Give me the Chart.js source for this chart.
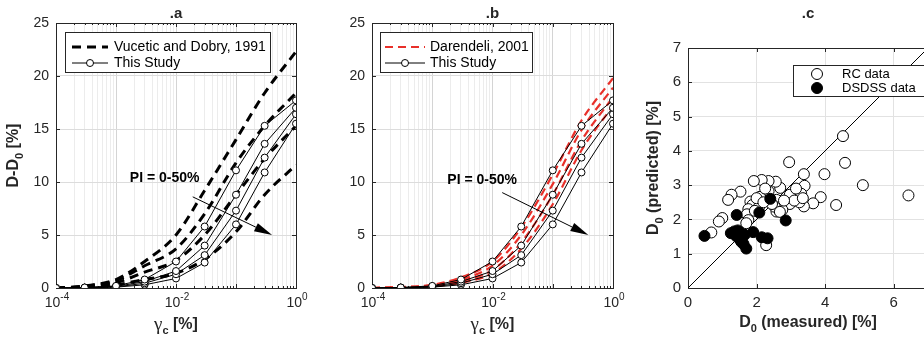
<!DOCTYPE html>
<html>
<head>
<meta charset="utf-8">
<script src="https://cdn.jsdelivr.net/npm/chart.js@4"></script>
<style>
  html, body { margin: 0; padding: 0; background: #fff; overflow: hidden; }
  body { width: 924px; height: 341px; position: relative; }
  canvas { position: absolute; top: 0; }
</style>
</head>
<body>
<canvas id="panel-a" width="310" height="341" style="left:0px"></canvas>
<canvas id="panel-b" width="320" height="341" style="left:310px"></canvas>
<canvas id="panel-c" width="310" height="341" style="left:630px"></canvas>
<script>
// shear strain levels [%] used by all curves in panels a and b
const strainPoints = [1e-4, 3e-4, 1e-3, 3e-3, 1e-2, 3e-2, 1e-1, 3e-1, 1];

// This Study (PI = 0 ... 50 %)
const study1 = [0, 0.05, 0.2, 0.8, 2.5, 5.8, 11.1, 15.3, 17.7];
const study2 = [0, 0.04, 0.15, 0.6, 1.6, 4.0, 8.8, 13.6, 17.0];
const study3 = [0, 0.03, 0.1, 0.45, 1.3, 3.1, 7.3, 12.3, 16.4];
const study4 = [0, 0.02, 0.08, 0.3, 0.9, 2.4, 6.0, 10.9, 15.5];

// Vucetic and Dobry, 1991
const vd1 = [0, 0.2, 0.8, 2.5, 5.0, 9.2, 14.0, 18.4, 22.3];
const vd2 = [0, 0.15, 0.7, 2.1, 3.7, 7.0, 11.8, 15.3, 18.4];
const vd3 = [0, 0.1, 0.5, 1.5, 2.6, 5.0, 8.8, 12.2, 15.3];
const vd4 = [0, 0.05, 0.3, 0.8, 1.4, 2.7, 5.3, 8.8, 11.6];

// Darendeli, 2001
const dar1 = [0, 0.08, 0.3, 1.0, 2.5, 5.7, 10.7, 15.8, 19.8];
const dar2 = [0, 0.06, 0.25, 0.8, 2.1, 5.0, 9.8, 14.9, 18.9];
const dar3 = [0, 0.05, 0.2, 0.65, 1.7, 4.3, 8.8, 13.9, 18.0];
const dar4 = [0, 0.04, 0.15, 0.5, 1.4, 3.7, 7.9, 13.0, 17.2];

// panel c: D0 measured vs predicted [%]
const rcMeasured = [4.52, 4.58, 2.95, 5.10, 6.43, 3.98, 3.38, 3.40, 3.87, 4.32, 3.65, 3.38, 3.30, 3.25, 2.97, 2.97,
  2.75, 2.58, 2.69, 2.56, 2.35, 2.15, 1.92, 2.25, 2.35, 2.10, 2.38, 2.58, 1.53, 1.27, 1.17, 1.82, 1.88, 1.76, 1.72,
  1.76, 1.70, 1.00, 0.90, 0.68, 2.28, 2.08, 2.00, 2.53, 2.68, 3.10, 3.35, 2.45, 2.20, 1.95, 2.80, 3.15, 2.25];
const rcPredicted = [4.43, 3.65, 3.67, 3.00, 2.70, 3.32, 3.32, 2.98, 2.65, 2.42, 2.47, 2.38, 2.75, 2.50, 2.72, 2.45,
  2.28, 2.57, 2.92, 3.10, 3.12, 3.15, 3.12, 2.76, 2.82, 2.66, 2.51, 2.23, 2.81, 2.72, 2.57, 2.52, 2.42, 2.30, 2.15,
  1.98, 1.89, 2.04, 1.94, 1.62, 1.25, 2.38, 2.62, 2.37, 2.22, 2.55, 2.62, 2.45, 2.50, 2.25, 2.55, 2.90, 2.90];
const dsMeasured = [0.48, 1.25, 1.35, 1.45, 1.52, 1.40, 1.48, 1.58, 1.55, 1.62, 1.70, 1.42, 1.90, 2.08, 2.15, 2.32, 2.40, 2.85, 1.65];
const dsPredicted = [1.52, 1.60, 1.65, 1.68, 1.62, 1.52, 1.45, 1.48, 1.35, 1.28, 1.15, 2.13, 1.63, 2.20, 1.48, 1.45, 2.60, 1.97, 1.55];
const identityLine = [0, 7];

const FONT = '"Liberation Sans", Arial, Helvetica, sans-serif';
const AXIS = '#262626';

function toPoints(xs, ys) {
  return xs.map((x, i) => ({ x: x, y: ys[i] }));
}

// gridline positions for the log axis: 1..9 x 10^e
const strainTicks = [];
for (let e = -4; e < 0; e++) {
  for (let m = 1; m < 10; m++) strainTicks.push(m * Math.pow(10, e));
}
strainTicks.push(1);

function isDecade(v) {
  const e = Math.round(Math.log10(v));
  return Math.abs(v / Math.pow(10, e) - 1) < 1e-9;
}
// labelled ticks: every second decade
const labelledStrains = strainTicks.filter(v => isDecade(v) && Math.round(Math.log10(v)) % 2 === 0);

// draws text made of normal / subscript / superscript parts, centred on (x, y)
function drawRich(ctx, parts, x, y, size, rotate, weight) {
  const fontOf = p => (p.italic ? 'italic ' : '') + ((p.normal || weight === 'normal') ? '' : 'bold ') +
    ((p.sub || p.sup) ? Math.round(size * 0.7) : (p.size || size)) + 'px ' + (p.serif ? '"Liberation Serif", serif' : FONT);
  ctx.save();
  ctx.translate(x, y);
  if (rotate) ctx.rotate(-Math.PI / 2);
  let total = 0;
  const widths = parts.map(p => {
    ctx.font = fontOf(p);
    const w = ctx.measureText(p.t).width;
    total += w;
    return w;
  });
  let cx = -total / 2;
  ctx.fillStyle = AXIS;
  ctx.textAlign = 'left';
  ctx.textBaseline = 'middle';
  parts.forEach((p, i) => {
    ctx.font = fontOf(p);
    ctx.fillText(p.t, cx, p.sub ? size * 0.4 : (p.sup ? -size * 0.42 : 0));
    cx += widths[i];
  });
  ctx.restore();
}

const decorPlugin = {
  id: 'decor',
  beforeDatasetsDraw(chart, args, opts) {
    const ctx = chart.ctx;
    const a = chart.chartArea;
    const xs = chart.scales.x, ys = chart.scales.y;
    ctx.save();
    ctx.strokeStyle = AXIS;
    ctx.lineWidth = 1;
    // inward tick marks
    ctx.beginPath();
    ys.ticks.forEach(t => {
      const py = Math.round(ys.getPixelForValue(t.value)) + 0.5;
      ctx.moveTo(a.left, py); ctx.lineTo(a.left + 4, py);
      ctx.moveTo(a.right, py); ctx.lineTo(a.right - 4, py);
    });
    xs.ticks.forEach(t => {
      const major = xs.type !== 'logarithmic' || isDecade(t.value);
      const len = major ? 4 : 2;
      const px = Math.round(xs.getPixelForValue(t.value)) + 0.5;
      ctx.moveTo(px, a.bottom); ctx.lineTo(px, a.bottom - len);
      ctx.moveTo(px, a.top); ctx.lineTo(px, a.top + len);
    });
    ctx.stroke();
    ctx.strokeRect(Math.round(a.left) + 0.5, Math.round(a.top) + 0.5,
      Math.round(a.right - a.left), Math.round(a.bottom - a.top));
    ctx.restore();
  },
  afterDraw(chart, args, opts) {
    const ctx = chart.ctx;
    const a = chart.chartArea;
    const xs = chart.scales.x, ys = chart.scales.y;
    const cx = (a.left + a.right) / 2;

    drawRich(ctx, [{ t: opts.title }], cx, 14, 15);
    if (opts.xLabel) drawRich(ctx, opts.xLabel, cx, opts.xLabelY, 16);
    if (opts.yLabel) drawRich(ctx, opts.yLabel, opts.yLabelX, (a.top + a.bottom) / 2, 16, true);

    // power-of-ten tick labels
    if (xs.type === 'logarithmic') {
      labelledStrains.forEach(v => {
        const e = Math.round(Math.log10(v));
        drawRich(ctx, [{ t: '10' }, { t: String(e), sup: true }], xs.getPixelForValue(v) + 1, a.bottom + 15, 14, false, 'normal');
      });
    }

    ctx.save();
    if (opts.arrow) {
      const x0 = xs.getPixelForValue(opts.arrow.from[0]), y0 = ys.getPixelForValue(opts.arrow.from[1]);
      const x1 = xs.getPixelForValue(opts.arrow.to[0]), y1 = ys.getPixelForValue(opts.arrow.to[1]);
      const ang = Math.atan2(y1 - y0, x1 - x0);
      const head = 18, half = 4.5;
      const bx = x1 - head * Math.cos(ang), by = y1 - head * Math.sin(ang);
      ctx.strokeStyle = '#000';
      ctx.fillStyle = '#000';
      ctx.lineWidth = 1;
      ctx.beginPath();
      ctx.moveTo(x0, y0); ctx.lineTo(bx, by);
      ctx.stroke();
      ctx.beginPath();
      ctx.moveTo(x1, y1);
      ctx.lineTo(bx + half * Math.sin(ang), by - half * Math.cos(ang));
      ctx.lineTo(bx - half * Math.sin(ang), by + half * Math.cos(ang));
      ctx.closePath();
      ctx.fill();
    }
    if (opts.note) {
      ctx.fillStyle = '#000';
      ctx.font = 'bold 14px ' + FONT;
      ctx.textAlign = 'left';
      ctx.textBaseline = 'middle';
      ctx.fillText(opts.note.text, xs.getPixelForValue(opts.note.at[0]), ys.getPixelForValue(opts.note.at[1]));
    }

    if (opts.legend) {
      const lg = opts.legend;
      ctx.fillStyle = '#fff';
      ctx.fillRect(lg.box[0], lg.box[1], lg.box[2], lg.box[3]);
      ctx.strokeStyle = AXIS;
      ctx.lineWidth = 1;
      ctx.strokeRect(lg.box[0] + 0.5, lg.box[1] + 0.5, lg.box[2], lg.box[3]);
      lg.rows.forEach(r => {
        const ds = chart.data.datasets[r.ds];
        if (r.x1 !== undefined) {
          ctx.save();
          ctx.strokeStyle = ds.borderColor;
          ctx.lineWidth = ds.borderWidth;
          ctx.setLineDash(ds.borderDash || []);
          ctx.beginPath();
          ctx.moveTo(r.x0, r.y); ctx.lineTo(r.x1, r.y);
          ctx.stroke();
          ctx.restore();
        }
        if (r.marker !== undefined) {
          ctx.beginPath();
          ctx.arc(r.marker, r.y, ds.pointRadius, 0, Math.PI * 2);
          ctx.fillStyle = ds.pointBackgroundColor || ds.backgroundColor;
          ctx.fill();
          ctx.strokeStyle = ds.pointBorderColor || '#000';
          ctx.lineWidth = 1;
          ctx.stroke();
        }
        ctx.fillStyle = '#000';
        ctx.font = lg.fontSize + 'px ' + FONT;
        ctx.textAlign = 'left';
        ctx.textBaseline = 'middle';
        ctx.fillText(r.text, r.textX, r.y + 0.5);
      });
    }
    ctx.restore();
  }
};

function logAxis() {
  return {
    type: 'logarithmic',
    min: 1e-4,
    max: 1,
    afterBuildTicks(scale) { scale.ticks = strainTicks.map(v => ({ value: v })); },
    afterFit(scale) { scale.height = 53; },
    border: { display: false },
    grid: {
      drawTicks: false,
      color: ctx => (ctx.tick && isDecade(ctx.tick.value)) ? '#d4d4d4' : '#ececec'
    },
    ticks: {
      autoSkip: false,
      maxRotation: 0,
      callback: () => ''
    }
  };
}

function dampingAxis(width) {
  return {
    min: 0,
    max: 25,
    afterFit(scale) { scale.width = width; },
    border: { display: false },
    grid: { drawTicks: false, color: '#dcdcdc' },
    ticks: { stepSize: 5, padding: 7, color: AXIS, font: { size: 14, family: FONT } }
  };
}

function studySet(values) {
  return {
    data: toPoints(strainPoints, values),
    borderColor: '#000',
    borderWidth: 1,
    pointRadius: 3.5,
    pointBackgroundColor: '#fff',
    pointBorderColor: '#000',
    pointBorderWidth: 1,
    tension: 0
  };
}

function dashedSet(values, color, width, dash) {
  return {
    data: toPoints(strainPoints, values),
    borderColor: color,
    borderWidth: width,
    borderDash: dash,
    pointRadius: 0,
    cubicInterpolationMode: 'monotone'
  };
}

const gammaLabel = [{ t: '\u03B3', serif: true, normal: true, size: 19 }, { t: 'c', sub: true }, { t: ' [%]' }];

// ---- panel a ----
new Chart(document.getElementById('panel-a'), {
  type: 'line',
  data: {
    datasets: [
      studySet(study1), studySet(study2), studySet(study3), studySet(study4),
      dashedSet(vd1, '#000', 3, [9, 6]), dashedSet(vd2, '#000', 3, [9, 6]),
      dashedSet(vd3, '#000', 3, [9, 6]), dashedSet(vd4, '#000', 3, [9, 6])
    ]
  },
  options: {
    responsive: false,
    animation: false,
    devicePixelRatio: 1,
    layout: { padding: { left: 0, right: 14, top: 23, bottom: 0 } },
    scales: { x: logAxis(), y: dampingAxis(56) },
    plugins: {
      legend: { display: false },
      tooltip: { enabled: false },
      decor: {
        title: '.a',
        xLabel: gammaLabel,
        xLabelY: 325,
        yLabel: [{ t: 'D-D' }, { t: '0', sub: true }, { t: ' [%]' }],
        yLabelX: 14,
        arrow: { from: [0.019, 8.6], to: [0.40, 5.0] },
        note: { text: 'PI = 0-50%', at: [0.0017, 10.4] },
        legend: {
          fontSize: 14,
          box: [65, 32, 205, 40],
          rows: [
            { ds: 4, y: 47, x0: 72, x1: 108, text: 'Vucetic and Dobry, 1991', textX: 114 },
            { ds: 0, y: 63, x0: 72, x1: 108, marker: 90, text: 'This Study', textX: 114 }
          ]
        }
      }
    }
  },
  plugins: [decorPlugin]
});

// ---- panel b ----
new Chart(document.getElementById('panel-b'), {
  type: 'line',
  data: {
    datasets: [
      studySet(study1), studySet(study2), studySet(study3), studySet(study4),
      dashedSet(dar1, '#e8302a', 2.2, [8, 5]), dashedSet(dar2, '#e8302a', 2.2, [8, 5]),
      dashedSet(dar3, '#e8302a', 2.2, [8, 5]), dashedSet(dar4, '#e8302a', 2.2, [8, 5])
    ]
  },
  options: {
    responsive: false,
    animation: false,
    devicePixelRatio: 1,
    layout: { padding: { left: 0, right: 17, top: 23, bottom: 0 } },
    scales: { x: logAxis(), y: dampingAxis(62) },
    plugins: {
      legend: { display: false },
      tooltip: { enabled: false },
      decor: {
        title: '.b',
        xLabel: gammaLabel,
        xLabelY: 325,
        arrow: { from: [0.0145, 9.0], to: [0.39, 5.0] },
        note: { text: 'PI = 0-50%', at: [0.00178, 10.2] },
        legend: {
          fontSize: 14,
          box: [70, 32, 152, 40],
          rows: [
            { ds: 4, y: 47, x0: 75, x1: 115, text: 'Darendeli, 2001', textX: 120 },
            { ds: 0, y: 63, x0: 75, x1: 115, marker: 95, text: 'This Study', textX: 120 }
          ]
        }
      }
    }
  },
  plugins: [decorPlugin]
});

// ---- panel c ----
new Chart(document.getElementById('panel-c'), {
  type: 'scatter',
  data: {
    datasets: [
      {
        data: toPoints(dsMeasured, dsPredicted),
        pointRadius: 5.5,
        pointBackgroundColor: '#000',
        pointBorderColor: '#000',
        backgroundColor: '#000',
        borderColor: '#000',
        pointBorderWidth: 1
      },
      {
        data: toPoints(rcMeasured, rcPredicted),
        pointRadius: 5.5,
        pointBackgroundColor: '#fff',
        pointBorderColor: '#000',
        backgroundColor: '#fff',
        borderColor: '#000',
        pointBorderWidth: 1
      },
      {
        data: toPoints(identityLine, identityLine),
        showLine: true,
        borderColor: '#000',
        borderWidth: 1,
        pointRadius: 0
      }
    ]
  },
  options: {
    responsive: false,
    animation: false,
    devicePixelRatio: 1,
    layout: { padding: { left: 0, right: 12, top: 48, bottom: 0 } },
    scales: {
      x: {
        type: 'linear',
        min: 0,
        max: 7,
        afterFit(scale) { scale.height = 53; },
        border: { display: false },
        grid: { drawTicks: false, color: '#e2e2e2' },
        ticks: { stepSize: 2, includeBounds: false, padding: 6, color: AXIS, font: { size: 15, family: FONT } }
      },
      y: {
        min: 0,
        max: 7,
        afterFit(scale) { scale.width = 58; },
        border: { display: false },
        grid: { drawTicks: false, color: '#e2e2e2' },
        ticks: { stepSize: 1, includeBounds: false, padding: 7, color: AXIS, font: { size: 15, family: FONT } }
      }
    },
    plugins: {
      legend: { display: false },
      tooltip: { enabled: false },
      decor: {
        title: '.c',
        xLabel: [{ t: 'D' }, { t: '0', sub: true }, { t: ' (measured) [%]' }],
        xLabelY: 323,
        yLabel: [{ t: 'D' }, { t: '0', sub: true }, { t: ' (predicted) [%]' }],
        yLabelX: 24,
        legend: {
          fontSize: 13,
          box: [163, 65, 131, 31],
          rows: [
            { ds: 1, y: 74, marker: 187, text: 'RC data', textX: 212 },
            { ds: 0, y: 88, marker: 187, text: 'DSDSS data', textX: 212 }
          ]
        }
      }
    }
  },
  plugins: [decorPlugin]
});
</script>
</body>
</html>
